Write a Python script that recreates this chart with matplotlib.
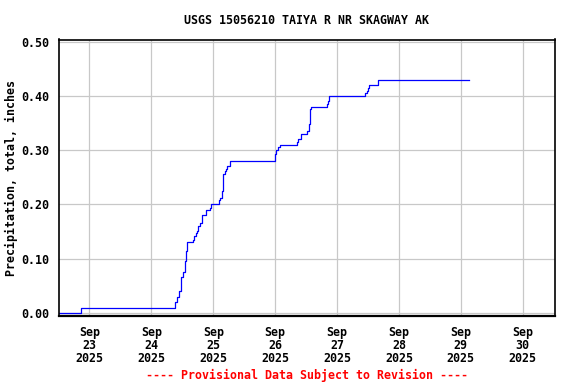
import matplotlib
matplotlib.use("Agg")
import matplotlib.pyplot as plt
import numpy as np
import pandas as pd

title = "USGS 15056210 TAIYA R NR SKAGWAY AK"
ylabel = "Precipitation, total, inches"
footer = "---- Provisional Data Subject to Revision ----"

# hours after 2025-09-23 00:00 at which the cumulative total changes
hours = [-12.5, -3.2, 33.0, 33.95, 34.7, 35.5, 36.2, 36.9, 37.6, 38.0,
         40.0, 40.6, 41.3, 41.7, 42.2, 43.0, 43.6, 45.0, 46.8, 47.1,
         50.2, 50.7, 51.2, 51.6, 51.9, 52.4, 52.9, 53.4, 54.6,
         72.1, 72.4, 73.0, 73.7, 80.4, 80.9, 82.0,
         84.5, 85.2, 85.4, 85.7, 85.9, 92.0, 92.6, 93.0,
         107.0, 107.6, 108.0, 108.5, 112.0, 147.2]
values = [0.00, 0.01, 0.02, 0.03, 0.04, 0.067, 0.076, 0.096, 0.115, 0.13,
          0.135, 0.141, 0.148, 0.152, 0.161, 0.166, 0.18, 0.189, 0.194, 0.20,
          0.209, 0.212, 0.225, 0.243, 0.256, 0.261, 0.266, 0.271, 0.28,
          0.293, 0.30, 0.306, 0.31, 0.315, 0.32, 0.33,
          0.336, 0.348, 0.36, 0.376, 0.38, 0.385, 0.391, 0.40,
          0.405, 0.41, 0.414, 0.42, 0.43, 0.43]

tick_days = ["2025-09-23", "2025-09-24", "2025-09-25", "2025-09-26",
             "2025-09-27", "2025-09-28", "2025-09-29", "2025-09-30"]
tick_labels = ["Sep\n23\n2025", "Sep\n24\n2025", "Sep\n25\n2025", "Sep\n26\n2025",
               "Sep\n27\n2025", "Sep\n28\n2025", "Sep\n29\n2025", "Sep\n30\n2025"]
yticks = [0.0, 0.1, 0.2, 0.3, 0.4, 0.5]
ytick_labels = ["0.00", "0.10", "0.20", "0.30", "0.40", "0.50"]

base = pd.Timestamp("2025-09-23 00:00")
times = [base + pd.Timedelta(hours=h) for h in hours]

font = "DejaVu Sans Mono"
fs = 8.4

fig = plt.figure(figsize=(5.76, 3.84), dpi=100)
ax_left, ax_right, ax_top, ax_bot = 58.5, 555, 39.5, 316
ax = fig.add_axes([ax_left/576, 1-ax_bot/384, (ax_right-ax_left)/576, (ax_bot-ax_top)/384])

ax.plot(times, values, drawstyle="steps-post", color="#0000ff", lw=0.9)

ax.set_xlim(pd.Timestamp("2025-09-22 12:00"), pd.Timestamp("2025-09-30 12:30"))
ax.set_ylim(-0.0055, 0.504)

ax.set_xticks([pd.Timestamp(d) for d in tick_days])
ax.set_xticklabels(tick_labels, fontfamily=font, fontweight="bold", fontsize=fs,
                   linespacing=1.02)
ax.set_yticks(yticks)
ax.set_yticklabels(ytick_labels, fontfamily=font, fontweight="bold", fontsize=fs)
ax.tick_params(axis="x", length=0, pad=7)
ax.tick_params(axis="y", length=0, pad=7)

ax.grid(True, color="#c8c8c8", lw=0.9)
ax.set_axisbelow(True)
for s in ax.spines.values():
    s.set_color("black")
    s.set_linewidth(1.2)
ax.spines["bottom"].set_linewidth(1.6)

ax.set_title(title, fontfamily=font, fontweight="bold", fontsize=fs, pad=11)
ax.set_ylabel(ylabel, fontfamily=font, fontweight="bold", fontsize=fs)
ax.yaxis.set_label_coords((18 - ax_left) / (ax_right - ax_left), 0.5)

fig.text((ax_left + ax_right) / 2 / 576, 1 - 375/384, footer, color="#ff0000",
         fontfamily=font, fontweight="bold", fontsize=fs, ha="center", va="center")

fig.savefig("out.png", dpi=100)
